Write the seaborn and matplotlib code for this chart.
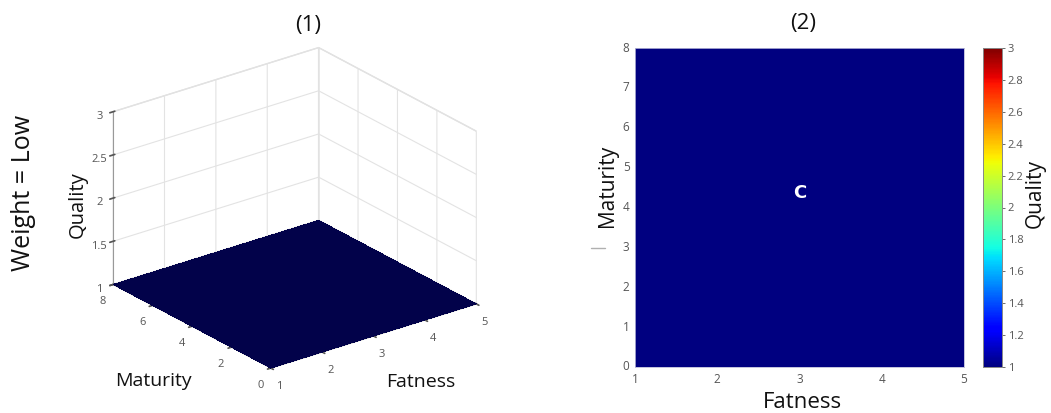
import numpy as np
import pandas as pd
import matplotlib
matplotlib.use("Agg")
import matplotlib.pyplot as plt
from matplotlib.lines import Line2D
import seaborn as sns

# Grid of the quality surface at Weight = Low
fatness = [1, 2, 3, 4, 5]
maturity = [0, 1, 2, 3, 4, 5, 6, 7, 8]
quality = [
    [1, 1, 1, 1, 1],  # maturity 0
    [1, 1, 1, 1, 1],  # maturity 1
    [1, 1, 1, 1, 1],  # maturity 2
    [1, 1, 1, 1, 1],  # maturity 3
    [1, 1, 1, 1, 1],  # maturity 4
    [1, 1, 1, 1, 1],  # maturity 5
    [1, 1, 1, 1, 1],  # maturity 6
    [1, 1, 1, 1, 1],  # maturity 7
    [1, 1, 1, 1, 1],  # maturity 8
]
quality_ticks = [1, 1.5, 2, 2.5, 3]
cbar_ticks = [1, 1.2, 1.4, 1.6, 1.8, 2, 2.2, 2.4, 2.6, 2.8, 3]
maturity_ticks_3d = [0, 2, 4, 6, 8]
region_label = "C"

sns.set_theme(style="white")
plt.rcParams["font.family"] = ["Open Sans", "DejaVu Sans"]

W, H = 1051, 413
fig = plt.figure(figsize=(W / 100, H / 100), dpi=100)


def fx(px):
    return px / W


def fy(py):
    return 1 - py / H


label_font = dict(family=["Open Sans", "DejaVu Sans"], color="#111111")
tick_color = "#555555"

# ---------- (1) 3D surface ----------
ax3 = fig.add_axes([-0.005, -0.027, 0.56, 1.02], projection="3d", proj_type="ortho")
X, Y = np.meshgrid(np.array(fatness, float), np.array(maturity, float))
Z = np.array(quality, float)
ax3.plot_surface(X, Y, Z, color="#02024a", shade=False, linewidth=0,
                 antialiased=False, rstride=1, cstride=1)
ax3.set_xlim(1, 5)
ax3.set_ylim(0, 8)
ax3.set_zlim(1, 3)
ax3.set_xticks(fatness)
ax3.set_yticks(maturity_ticks_3d)
ax3.set_zticks(quality_ticks)
ax3.set_zticklabels(["1", "1.5", "2", "2.5", "3"])
ax3.view_init(elev=24, azim=-127.5)
ax3.set_box_aspect((1, 1, 0.73), zoom=0.95)
for axis in (ax3.xaxis, ax3.yaxis, ax3.zaxis):
    axis.set_pane_color((1, 1, 1, 1))
    axis.pane.set_edgecolor("#dddddd")
    axis._axinfo["grid"]["color"] = "#e3e3e3"
    axis._axinfo["grid"]["linewidth"] = 0.8
    axis.line.set_color("#999999")
    axis.line.set_linewidth(0.8)
ax3.tick_params(axis="both", labelsize=8, colors=tick_color, pad=0)
ax3.tick_params(axis="z", labelsize=8, colors=tick_color, pad=-2)

fig.text(fx(308), fy(25), "(1)", ha="center", va="center", fontsize=16, **label_font)
fig.text(fx(78), fy(205), "Quality", ha="center", va="center", rotation=90,
         fontsize=14.5, **label_font)
fig.text(fx(153), fy(381), "Maturity", ha="center", va="center", fontsize=14, **label_font)
fig.text(fx(421), fy(382), "Fatness", ha="center", va="center", fontsize=14, **label_font)
fig.text(fx(24), fy(193), "Weight = Low", ha="center", va="center", rotation=90,
         fontsize=18, **label_font)

# ---------- (2) heatmap ----------
axh = fig.add_axes([fx(635), fy(367), fx(964) - fx(635), fy(48) - fy(367)])
cax = fig.add_axes([fx(983), fy(367), fx(1002) - fx(983), fy(48) - fy(367)])
df = pd.DataFrame(quality, index=maturity, columns=fatness)
sns.heatmap(df, ax=axh, cmap="jet", vmin=1, vmax=3, cbar_ax=cax,
            cbar_kws={"ticks": cbar_ticks})
# grid values sit at cell centres; clip the field to the data range
axh.set_xlim(0.5, len(fatness) - 0.5)
axh.set_ylim(0.5, len(maturity) - 0.5)
axh.set_xticks(np.arange(len(fatness)) + 0.5)
axh.set_xticklabels([str(v) for v in fatness], rotation=0)
axh.set_yticks(np.arange(len(maturity)) + 0.5)
axh.set_yticklabels([str(v) for v in maturity], rotation=0)
axh.tick_params(axis="both", labelsize=8.5, colors=tick_color, length=0, pad=4)
axh.set_xlabel("")
axh.set_ylabel("")
for s in axh.spines.values():
    s.set_visible(True)
    s.set_color("#b8b8d8")
    s.set_linewidth(0.6)
cax.tick_params(labelsize=8, colors=tick_color, length=2, width=0.6, pad=2)
cax.set_yticklabels([f"{t:g}" for t in cbar_ticks])
for s in cax.spines.values():
    s.set_visible(True)
    s.set_color("#888888")
    s.set_linewidth(0.6)

axh.text(0.5, 0.545, region_label, transform=axh.transAxes,
         ha="center", va="center", color="white", fontsize=13, fontweight="bold",
         family=["DejaVu Sans"])

# short grey stroke left of the heatmap's y labels
fig.add_artist(Line2D([fx(591), fx(605)], [fy(248.5), fy(248.5)],
                      color="#b0b0b0", linewidth=1.0))

fig.text(fx(803), fy(23), "(2)", ha="center", va="center", fontsize=16, **label_font)
fig.text(fx(802), fy(402), "Fatness", ha="center", va="center", fontsize=16, **label_font)
fig.text(fx(607), fy(186), "Maturity", ha="center", va="center", rotation=90,
         fontsize=15, **label_font)
fig.text(fx(1035), fy(193), "Quality", ha="center", va="center", rotation=90,
         fontsize=15, **label_font)

fig.savefig("out.png", dpi=100)
